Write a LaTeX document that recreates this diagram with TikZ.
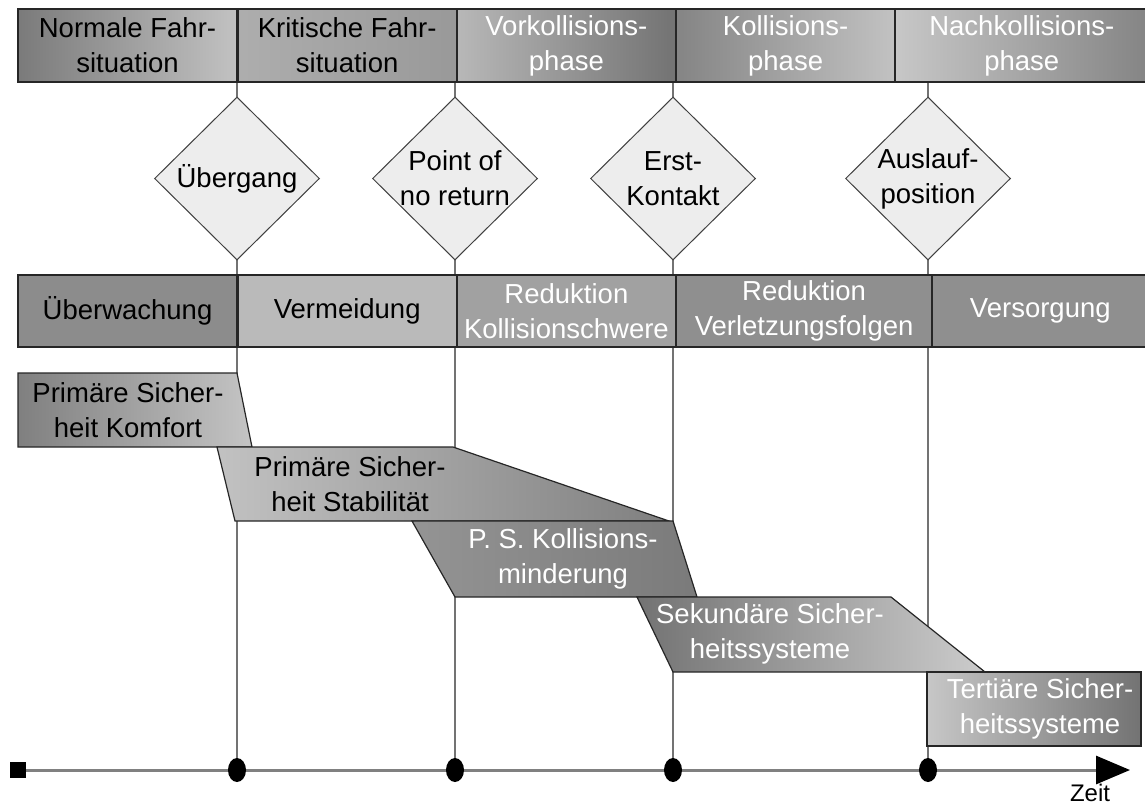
\documentclass[tikz,border=0pt]{standalone}
\usepackage{fontspec}
\setmainfont{Liberation Sans}
\usetikzlibrary{positioning, shapes.geometric, arrows.meta}

\begin{document}
\begin{tikzpicture}
% style
	[x=1pt, y=-1pt,
	font=\fontsize{27.5}{35}\selectfont,
	phase/.style={rectangle, draw=black!85, line width=1.2pt, inner sep=0pt, minimum height=73pt, align=center},
	task/.style={rectangle, draw=black!85, line width=1.2pt, inner sep=0pt, minimum height=72pt, align=center},
	event/.style={diamond, draw=black!75, fill=black!7, line width=1pt, inner sep=0pt, minimum width=165pt, minimum height=163pt},
	eventtext/.style={align=center, inner sep=0pt},
	system/.style={draw=black!85, line width=1.2pt},
	systext/.style={align=center, inner sep=0pt},
	point/.style={ellipse, fill=black, inner sep=0pt, minimum width=18pt, minimum height=24pt},
	startbox/.style={rectangle, fill=black, inner sep=0pt, minimum size=16pt},
	tick/.style={draw=black!55, line width=1.2pt},
	axis/.style={draw=black!50, line width=3pt, -{Triangle[length=34pt, width=28pt, color=black]}}]

	\useasboundingbox (0,0) rectangle (1145,807);

	% time axis
	\node [startbox] (s0) at (18,770) {};
	\coordinate (tip) at (1130,770);
	\draw [axis] (s0) -- (tip);
	\node [point] (p1) at (237,770) {};
	\node [point] (p2) at (455,770) {};
	\node [point] (p3) at (673,770) {};
	\node [point] (p4) at (928,770) {};
	\node [font=\fontsize{24}{28}\selectfont, inner sep=0pt] (zeit) at (1090,793) {Zeit};

	% markers
	\coordinate (v1) at (237,82);
	\coordinate (v2) at (455,82);
	\coordinate (v3) at (673,82);
	\coordinate (v4) at (928,82);
	\path [tick] (v1) edge (p1)
	             (v2) edge (p2)
	             (v3) edge (p3)
	             (v4) edge (p4);

	% phases
	\node [phase, minimum width=219pt, left color=black!52, right color=black!24] (ph1) at (127.5,45.5) {Normale Fahr-\\situation};
	\node [phase, minimum width=218pt, left color=black!32, right color=black!40, right=0pt of ph1] (ph2) {Kritische Fahr-\\situation};
	\node [phase, minimum width=218pt, left color=black!28, right color=black!55, text=white, right=0pt of ph2] (ph3) {Vorkollisions-\\phase};
	\node [phase, minimum width=218pt, left color=black!48, right color=black!24, text=white, right=0pt of ph3] (ph4) {Kollisions-\\phase};
	\node [phase, minimum width=252pt, left color=black!22, right color=black!48, text=white, right=0pt of ph4] (ph5) {Nachkollisions-\\phase};

	% events
	\node [event, label={[eventtext]center:\"Ubergang}] (d1) at (237,178.5) {};
	\node [event, label={[eventtext]center:Point of\\no return}] (d2) at (455,178.5) {};
	\node [event, label={[eventtext]center:Erst-\\Kontakt}] (d3) at (673,178.5) {};
	\node [event, label={[eventtext]center:Auslauf-\\position}] (d4) at (928,178.5) {};

	% tasks
	\node [task, minimum width=219pt, fill=black!45] (m1) at (127.5,311) {\"Uberwachung};
	\node [task, minimum width=218pt, fill=black!27, right=0pt of m1] (m2) {Vermeidung};
	\node [task, minimum width=218pt, fill=black!37, text=white, right=0pt of m2] (m3) {Reduktion\\Kollisionschwere};
	\node [task, minimum width=255pt, fill=black!44, text=white, right=0pt of m3] (m4) {Reduktion\\Verletzungsfolgen};
	\node [task, minimum width=215pt, fill=black!44, text=white, right=0pt of m4] (m5) {Versorgung};

	% safety systems
	\shadedraw [system, left color=black!50, right color=black!23] (18,373) -- (237,373) -- (252,447) -- (18,447) -- cycle;
	\node [systext] (s1) at (128,410) {Prim\"are Sicher-\\heit Komfort};
	\shadedraw [system, left color=black!24, right color=black!50] (217,447) -- (453,447) -- (669,521) -- (235,521) -- cycle;
	\node [systext] (s2) at (350,484) {Prim\"are Sicher-\\heit Stabilit\"at};
	\shadedraw [system, left color=black!42, middle color=black!32, right color=black!52] (412,521) -- (673,521) -- (697,597) -- (455,597) -- cycle;
	\node [systext, text=white] (s3) at (563,559) {P. S. Kollisions-\\minderung};
	\shadedraw [system, left color=black!55, right color=black!20] (637,597) -- (891,597) -- (985,672) -- (673,672) -- cycle;
	\node [systext, text=white] (s4) at (770,634) {Sekund\"are Sicher-\\heitssysteme};
	\shadedraw [system, left color=black!22, right color=black!55] (927,672) rectangle (1141,746);
	\node [systext, text=white] (s5) at (1040,709) {Terti\"are Sicher-\\heitssysteme};
\end{tikzpicture}
\end{document}
